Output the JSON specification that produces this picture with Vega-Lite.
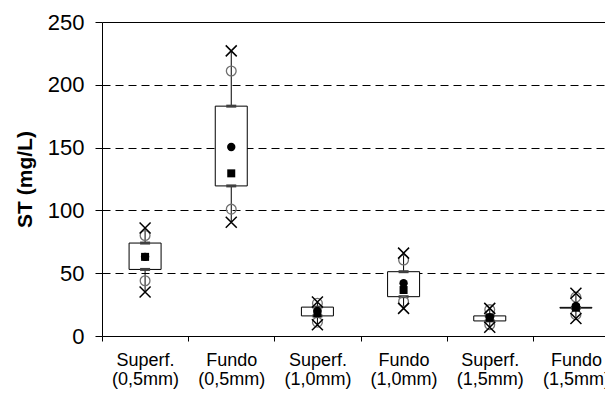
{
  "$schema": "https://vega.github.io/schema/vega-lite/v6.json",
  "autosize": {"type": "none"},
  "padding": {"left": 102, "top": 22, "right": 0, "bottom": 62},
  "width": 503,
  "height": 314,
  "background": "white",
  "config": {
    "view": {"stroke": null},
    "font": "Liberation Sans",
    "axisX": {
      "domainColor": "black", "tickColor": "black", "labelColor": "black",
      "labelFont": "Liberation Sans", "labelFontSize": 18, "labelAngle": 0,
      "tickSize": 5, "labelPadding": 10, "grid": false
    }
  },
  "data": {
    "values": [
      {"grupo": "Superf. (0,5mm)", "min": 35, "p10": 44, "q1": 53, "median": 63, "mean": 63, "q3": 74, "p90": 80, "max": 86},
      {"grupo": "Fundo (0,5mm)", "min": 90.5, "p10": 101, "q1": 119.5, "median": 129.5, "mean": 150.5, "q3": 183, "p90": 211, "max": 227},
      {"grupo": "Superf. (1,0mm)", "min": 9, "p10": 11, "q1": 16, "median": 18, "mean": 20, "q3": 23, "p90": 26, "max": 27},
      {"grupo": "Fundo (1,0mm)", "min": 22, "p10": 27.5, "q1": 31.3, "median": 36.6, "mean": 42, "q3": 51.2, "p90": 60.5, "max": 66},
      {"grupo": "Superf. (1,5mm)", "min": 7, "p10": 9, "q1": 12, "median": 14.5, "mean": 15, "q3": 16, "p90": 21, "max": 22},
      {"grupo": "Fundo (1,5mm)", "min": 14, "p10": 17, "q1": 22.2, "median": 22.5, "mean": 24, "q3": 22.8, "p90": 31, "max": 34}
    ]
  },
  "encoding": {
    "x": {
      "field": "grupo", "type": "nominal", "sort": null,
      "scale": {
        "type": "band",
        "domain": ["Superf. (0,5mm)", "Fundo (0,5mm)", "Superf. (1,0mm)", "Fundo (1,0mm)", "Superf. (1,5mm)", "Fundo (1,5mm)"],
        "range": [0, 517], "paddingInner": 0, "paddingOuter": 0
      },
      "axis": {
        "title": null, "tickBand": "extent", "labelExpr": "split(datum.label, ' ')",
        "labelLineHeight": 19, "labelOverlap": false, "labelLimit": 0, "labelBaseline": "top"
      }
    }
  },
  "layer": [
    {
      "mark": {"type": "rule", "color": "black", "strokeWidth": 1},
      "encoding": {
        "y": {"field": "min", "type": "quantitative", "scale": {"domain": [0, 250], "nice": false, "zero": true},
          "title": "ST (mg/L)",
          "axis": {
            "values": [0, 50, 100, 150, 200, 250],
            "domainColor": "black", "tickColor": "black", "labelColor": "black",
            "tickSize": 7, "labelPadding": 11, "labelFontSize": 22, "labelFont": "Liberation Sans",
            "titleFontSize": 21, "titleFontWeight": "bold", "titleColor": "black", "titleFont": "Liberation Sans", "titlePadding": 12,
            "grid": true, "gridColor": "black", "gridWidth": 1,
            "gridDash": {"condition": {"test": "datum.value == 250", "value": []}, "value": [8, 5]},
            "gridOpacity": {"condition": {"test": "datum.value == 0", "value": 0}, "value": 1}
          }
        },
        "y2": {"field": "max"}
      }
    },
    {
      "mark": {"type": "bar", "fill": "white", "stroke": "black", "strokeWidth": 1, "size": 32},
      "encoding": {
        "y": {"field": "q1", "type": "quantitative", "title": "ST (mg/L)"},
        "y2": {"field": "q3"}
      }
    },
    {
      "mark": {"type": "tick", "color": "#404040", "thickness": 3, "size": 10, "opacity": 1},
      "encoding": {"y": {"field": "q3", "type": "quantitative", "title": "ST (mg/L)"}}
    },
    {
      "mark": {"type": "tick", "color": "#404040", "thickness": 3, "size": 10, "opacity": 1},
      "encoding": {"y": {"field": "q1", "type": "quantitative", "title": "ST (mg/L)"}}
    },
    {
      "mark": {"type": "point", "shape": "circle", "filled": false, "stroke": "#707070", "strokeWidth": 1.3, "size": 95, "opacity": 1},
      "encoding": {"y": {"field": "p90", "type": "quantitative", "title": "ST (mg/L)"}}
    },
    {
      "mark": {"type": "point", "shape": "circle", "filled": false, "stroke": "#707070", "strokeWidth": 1.3, "size": 95, "opacity": 1},
      "encoding": {"y": {"field": "p10", "type": "quantitative", "title": "ST (mg/L)"}}
    },
    {
      "mark": {"type": "point", "shape": "M-1,-1L1,1M-1,1L1,-1", "filled": false, "stroke": "black", "strokeWidth": 1.5, "size": 121, "opacity": 1},
      "encoding": {"y": {"field": "max", "type": "quantitative", "title": "ST (mg/L)"}}
    },
    {
      "mark": {"type": "point", "shape": "M-1,-1L1,1M-1,1L1,-1", "filled": false, "stroke": "black", "strokeWidth": 1.5, "size": 121, "opacity": 1},
      "encoding": {"y": {"field": "min", "type": "quantitative", "title": "ST (mg/L)"}}
    },
    {
      "mark": {"type": "point", "shape": "circle", "filled": true, "color": "black", "size": 70, "opacity": 1},
      "encoding": {"y": {"field": "mean", "type": "quantitative", "title": "ST (mg/L)"}}
    },
    {
      "mark": {"type": "point", "shape": "square", "filled": true, "color": "black", "size": 64, "opacity": 1},
      "encoding": {"y": {"field": "median", "type": "quantitative", "title": "ST (mg/L)"}}
    }
  ]
}
